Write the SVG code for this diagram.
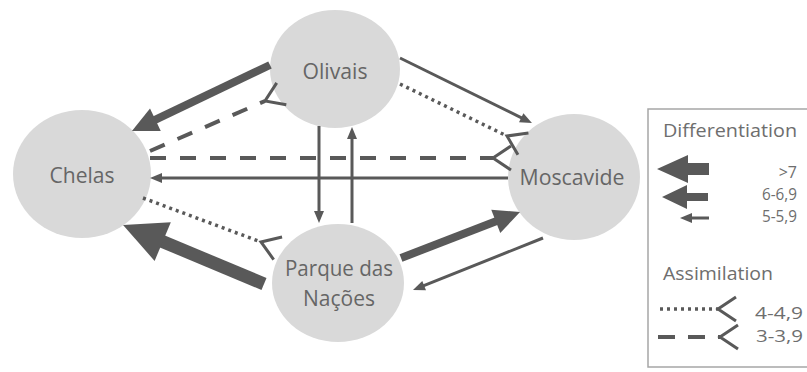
<svg xmlns="http://www.w3.org/2000/svg" width="807" height="372" viewBox="0 0 807 372">
<style>
  .node { fill: #d9d9d9; }
  .lbl { font-family: "Open Sans", "Liberation Sans", sans-serif; font-size: 21px; fill: #666666; text-anchor: middle; }
  .leg { font-family: "Open Sans", "Liberation Sans", sans-serif; font-size: 18px; fill: #6e6e6e; }
  .num { font-family: "Open Sans", "Liberation Sans", sans-serif; font-size: 16px; fill: #6e6e6e; }
  .thin { stroke: #595959; stroke-width: 3; fill: none; marker-end: url(#aThin); }
  .med { stroke: #595959; stroke-width: 8; fill: none; marker-end: url(#aMed); }
  .big { stroke: #595959; stroke-width: 13; fill: none; marker-end: url(#aBig); }
  .dash { stroke: #595959; stroke-width: 4; fill: none; stroke-dasharray: 16 14; marker-end: url(#fork); }
  .dot { stroke: #595959; stroke-width: 3.5; fill: none; stroke-dasharray: 3 4; marker-end: url(#fork); }
  .head { fill: #595959; }
</style>
<defs>
  <marker id="aThin" markerUnits="userSpaceOnUse" orient="auto" refX="0" refY="0" markerWidth="20" markerHeight="20" viewBox="-2 -10 20 20" overflow="visible">
    <path d="M-1,-5 L11,0 L-1,5 z" fill="#595959"/>
  </marker>
  <marker id="aMed" markerUnits="userSpaceOnUse" orient="auto" refX="0" refY="0" markerWidth="40" markerHeight="40" viewBox="-2 -20 40 40" overflow="visible">
    <path d="M-1,-12.5 L25,0 L-1,12.5 z" fill="#595959"/>
  </marker>
  <marker id="aBig" markerUnits="userSpaceOnUse" orient="auto" refX="0" refY="0" markerWidth="60" markerHeight="60" viewBox="-2 -30 60 60" overflow="visible">
    <path d="M-1,-21 L42,0 L-1,21 z" fill="#595959"/>
  </marker>
  <marker id="fork" markerUnits="userSpaceOnUse" orient="auto" refX="0" refY="0" markerWidth="40" markerHeight="40" viewBox="-5 -20 40 40" overflow="visible">
    <path d="M18,-12 L0,0 L18,12" fill="none" stroke="#595959" stroke-width="3" stroke-dasharray="none"/>
  </marker>
</defs>

<g id="node-olivais">
  <ellipse class="node" cx="335" cy="69" rx="65" ry="59"/>
  <text class="lbl" x="335" y="79" textLength="65" lengthAdjust="spacingAndGlyphs">Olivais</text>
</g>
<g id="node-chelas">
  <ellipse class="node" cx="82" cy="174" rx="69" ry="64"/>
  <text class="lbl" x="82" y="183" textLength="65" lengthAdjust="spacingAndGlyphs">Chelas</text>
</g>
<g id="node-moscavide">
  <ellipse class="node" cx="574" cy="177" rx="66" ry="63"/>
  <text class="lbl" x="572" y="185" textLength="105" lengthAdjust="spacingAndGlyphs">Moscavide</text>
</g>
<g id="node-parque">
  <ellipse class="node" cx="338" cy="283" rx="66" ry="59"/>
  <text class="lbl" x="339" y="276" textLength="108" lengthAdjust="spacingAndGlyphs">Parque das</text>
  <text class="lbl" x="339" y="306" textLength="72" lengthAdjust="spacingAndGlyphs">Nações</text>
</g>

<g id="connectors">
  <line class="big" x1="264" y1="284" x2="161.8" y2="241.2"/>
  <line class="med" x1="270" y1="65" x2="154.5" y2="120.2"/>
  <line class="med" x1="401" y1="258" x2="496.7" y2="221"/>
  <line class="thin" x1="400" y1="58" x2="522.1" y2="118.1"/>
  <line class="thin" x1="508" y1="178" x2="161" y2="178"/>
  <line class="thin" x1="319" y1="126" x2="319" y2="212"/>
  <line class="thin" x1="352" y1="223" x2="352" y2="138"/>
  <line class="thin" x1="543" y1="238" x2="423.2" y2="285.9"/>
  <line class="dash" x1="150" y1="151" x2="265" y2="101"/>
  <line class="dash" x1="150" y1="158" x2="493" y2="158"/>
  <line class="dot" x1="400" y1="84" x2="507" y2="136"/>
  <line class="dot" x1="143" y1="198" x2="261" y2="242"/>
</g>

<g id="legend">
  <rect x="648" y="109" width="170" height="258" fill="none" stroke="#a6a6a6" stroke-width="1.5"/>
  <text class="leg" x="663" y="137" textLength="134" lengthAdjust="spacingAndGlyphs">Differentiation</text>
  <polygon class="head" points="657,169 688,155 688,163 709,163 709,175 688,175 688,183"/>
  <polygon class="head" points="662,197 687,185 687,193 708,193 708,201 687,201 687,209"/>
  <line class="thin" x1="709" y1="218" x2="691" y2="218"/>
  <text class="num" x="797" y="178" text-anchor="end">&gt;7</text>
  <text class="num" x="797" y="200" text-anchor="end" textLength="35" lengthAdjust="spacingAndGlyphs">6-6,9</text>
  <text class="num" x="797" y="222" text-anchor="end" textLength="35" lengthAdjust="spacingAndGlyphs">5-5,9</text>
  <text class="leg" x="663" y="280" textLength="110" lengthAdjust="spacingAndGlyphs">Assimilation</text>
  <line class="dot" x1="660" y1="309" x2="718" y2="309"/>
  <line class="dash" x1="658" y1="337" x2="720" y2="337" style="stroke-dasharray:17 13"/>
  <text class="num" x="755" y="319" textLength="48" lengthAdjust="spacingAndGlyphs">4-4,9</text>
  <text class="num" x="756" y="342" textLength="47" lengthAdjust="spacingAndGlyphs">3-3,9</text>
</g>
</svg>
